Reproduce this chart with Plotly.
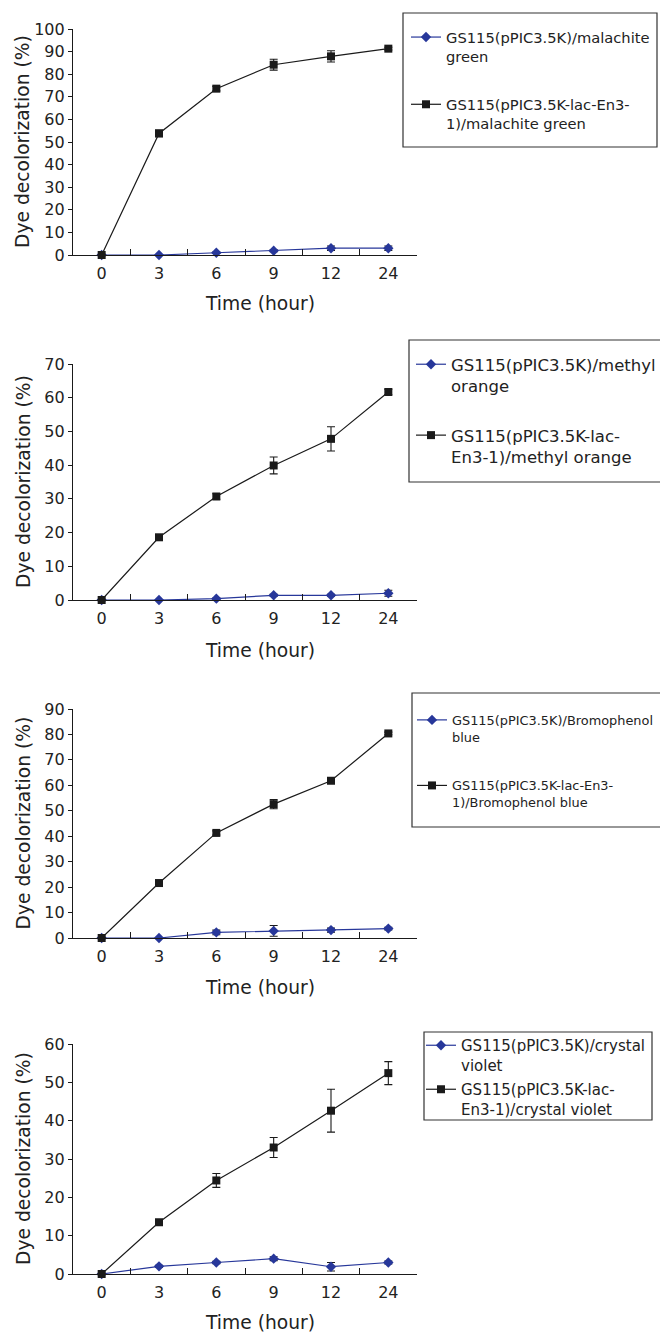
import plotly.graph_objects as go

W, H = 660, 1332

times = ["0", "3", "6", "9", "12", "24"]

# Panel 1: malachite green
mg_ctrl = [0, 0, 1.0, 1.9, 3.0, 3.0]
mg_ctrl_err = [0, 0, 0.3, 0.4, 1.0, 1.0]
mg_lac = [0, 53.8, 73.6, 84.2, 87.9, 91.3]
mg_lac_err = [0, 1.5, 1.0, 2.4, 2.5, 0.6]

# Panel 2: methyl orange
mo_ctrl = [0, 0, 0.4, 1.4, 1.4, 2.0]
mo_ctrl_err = [0, 0, 0.2, 0.3, 0.3, 0.9]
mo_lac = [0, 18.6, 30.7, 39.9, 47.8, 61.7]
mo_lac_err = [0, 0.5, 0.8, 2.5, 3.6, 0.8]

# Panel 3: Bromophenol blue
bb_ctrl = [0, 0, 2.2, 2.8, 3.1, 3.7]
bb_ctrl_err = [0, 0, 0.9, 2.1, 0.8, 0.5]
bb_lac = [0, 21.6, 41.3, 52.6, 61.8, 80.4]
bb_lac_err = [0, 1.0, 0.8, 1.8, 0.8, 0.5]

# Panel 4: crystal violet
cv_ctrl = [0, 2.0, 3.0, 4.0, 1.9, 3.0]
cv_ctrl_err = [0, 0.3, 0.3, 0.5, 1.1, 0.4]
cv_lac = [0, 13.5, 24.4, 33.0, 42.6, 52.4]
cv_lac_err = [0, 0.5, 1.8, 2.6, 5.6, 3.0]

ctrl_names = ["GS115(pPIC3.5K)/malachite<br>green",
              "GS115(pPIC3.5K)/methyl<br>orange",
              "GS115(pPIC3.5K)/Bromophenol<br>blue",
              "GS115(pPIC3.5K)/crystal<br>violet"]
lac_names = ["GS115(pPIC3.5K-lac-En3-<br>1)/malachite green",
             "GS115(pPIC3.5K-lac-<br>En3-1)/methyl orange",
             "GS115(pPIC3.5K-lac-En3-<br>1)/Bromophenol blue",
             "GS115(pPIC3.5K-lac-<br>En3-1)/crystal violet"]

ymax = [100, 70, 90, 60]

# pixel layout (top, bottom) of each plotting area
panels_px = [(29, 255), (364, 600), (709, 938), (1044, 1274)]
legend_box_px = [(403, 13, 657, 147), (409, 340, 720, 482),
                 (412, 693, 720, 827), (424, 1032, 652, 1120)]
legend_pos_px = [(406, 21), (411, 347), (412, 705), (421, 1029)]
legend_font = [14.7, 16.5, 12.9, 15.0]
legend_gap = [26, 25, 29, 2]
xtitle_px = [303, 650, 987, 1322]

BLUE = "#27379A"
BLACK = "#1a1a1a"
FONT = "DejaVu Sans, sans-serif"
TICK = 16
TITLE = 18.7

ctrl = [mg_ctrl, mo_ctrl, bb_ctrl, cv_ctrl]
ctrl_err = [mg_ctrl_err, mo_ctrl_err, bb_ctrl_err, cv_ctrl_err]
lac = [mg_lac, mo_lac, bb_lac, cv_lac]
lac_err = [mg_lac_err, mo_lac_err, bb_lac_err, cv_lac_err]

def px(x):
    return x / W

def py(y):
    return 1 - y / H

fig = go.Figure()
shapes = []
annotations = []
layout = dict(template="none", width=W, height=H,
              margin=dict(l=0, r=0, t=0, b=0, pad=0, autoexpand=False),
              paper_bgcolor="white", plot_bgcolor="white",
              font=dict(family=FONT, color="#222"), showlegend=True)

x0, x1 = 73, 417
for i in range(4):
    n = "" if i == 0 else str(i + 1)
    xa, ya = "x" + n, "y" + n
    lg = "legend" + n
    top, bot = panels_px[i]
    fig.add_trace(go.Scatter(
        x=times, y=ctrl[i], name=ctrl_names[i], xaxis=xa, yaxis=ya,
        mode="lines+markers", legend=lg, legendgroup="c%d" % i,
        line=dict(color=BLUE, width=1.2),
        marker=dict(symbol="diamond", size=8, color=BLUE),
        error_y=dict(type="data", array=ctrl_err[i], color=BLACK, thickness=1.1, width=4),
        cliponaxis=False))
    fig.add_trace(go.Scatter(
        x=times, y=lac[i], name=lac_names[i], xaxis=xa, yaxis=ya,
        mode="lines+markers", legend=lg, legendgroup="l%d" % i,
        line=dict(color=BLACK, width=1.2),
        marker=dict(symbol="square", size=8, color=BLACK),
        error_y=dict(type="data", array=lac_err[i], color=BLACK, thickness=1.1, width=4),
        cliponaxis=False))
    layout["xaxis" + n] = dict(
        domain=[px(x0), px(x1)], anchor=ya, type="category", automargin=False,
        categoryorder="array", categoryarray=times, range=[-0.5, 5.5],
        showline=True, linecolor=BLACK, linewidth=1.2, ticks="inside",
        tickson="boundaries", ticklen=6, tickcolor=BLACK, tickwidth=1.2,
        ticklabelstandoff=4,
        showgrid=False, zeroline=False, tickfont=dict(size=TICK, family=FONT, color="#222"))
    layout["yaxis" + n] = dict(
        domain=[py(bot), py(top)], anchor=xa, range=[0, ymax[i]], dtick=10,
        automargin=False,
        showline=True, linecolor=BLACK, linewidth=1.2, ticks="outside",
        ticklen=4, tickcolor=BLACK, tickwidth=1.2, showgrid=False, zeroline=False,
        tickfont=dict(size=TICK, family=FONT, color="#222"))
    lx, lyy = legend_pos_px[i]
    layout[lg] = dict(x=px(lx), y=py(lyy), xanchor="left", yanchor="top",
                      bgcolor="rgba(0,0,0,0)", borderwidth=0,
                      font=dict(size=legend_font[i], family=FONT, color="#222"),
                      traceorder="grouped", tracegroupgap=legend_gap[i], valign="top")
    bx0, by0, bx1, by1 = legend_box_px[i]
    shapes.append(dict(type="rect", xref="paper", yref="paper",
                       x0=px(bx0), x1=px(bx1), y0=py(by1), y1=py(by0),
                       line=dict(color="#333", width=1.2)))
    annotations.append(dict(text="Dye decolorization (%)", xref="paper", yref="paper",
                            x=px(23), y=py((top + bot) / 2), textangle=-90,
                            showarrow=False, xanchor="center", yanchor="middle",
                            font=dict(size=TITLE, family=FONT, color="#222")))
    annotations.append(dict(text="Time (hour)", xref="paper", yref="paper",
                            x=px(260), y=py(xtitle_px[i]), showarrow=False,
                            xanchor="center", yanchor="middle",
                            font=dict(size=TITLE, family=FONT, color="#222")))

layout["shapes"] = shapes
layout["annotations"] = annotations
fig.update_layout(**layout)
fig.write_html(
    "out.html",
    config={"displayModeBar": False},
    post_script=("document.body.style.margin='0';"
                 "document.documentElement.style.overflow='hidden';"
                 "var d=document.getElementById('{plot_id}');"
                 "d.style.position='fixed';d.style.top='0';d.style.left='0';"))
